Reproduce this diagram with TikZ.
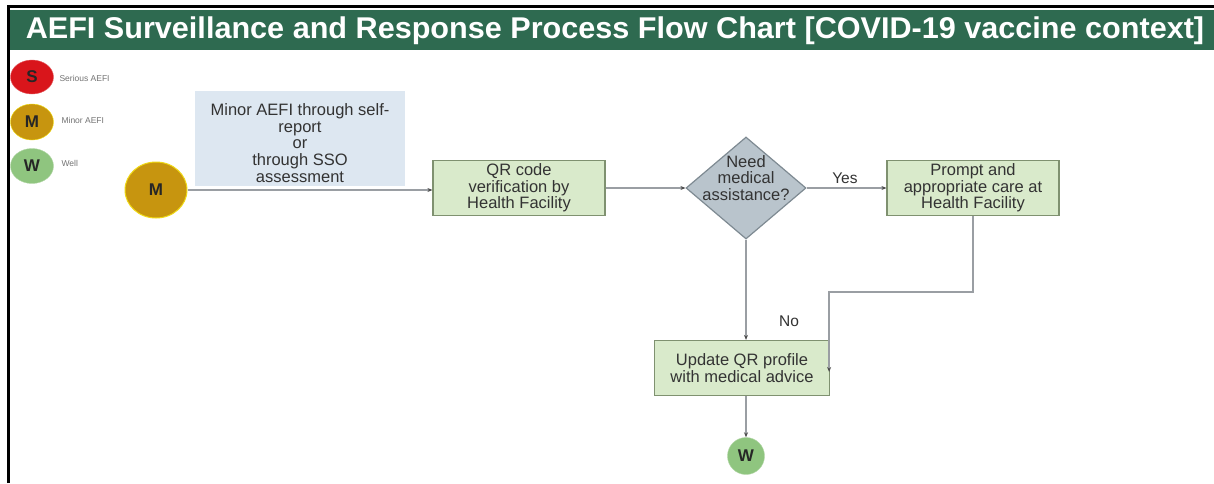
\documentclass[tikz,border=0pt]{standalone}
\usepackage{fontspec}
\setmainfont{Liberation Sans}
\usetikzlibrary{shapes.geometric,arrows.meta}
\definecolor{banner}{HTML}{2E6A50}
\definecolor{boxgreen}{HTML}{D9EACB}
\definecolor{boxedge}{HTML}{7F9170}
\definecolor{boxblue}{HTML}{DDE7F1}
\definecolor{diamfill}{HTML}{B9C4CC}
\definecolor{diamedge}{HTML}{7E8A92}
\definecolor{sred}{HTML}{D9151B}
\definecolor{mgold}{HTML}{C7950F}
\definecolor{wgreen}{HTML}{8FC57F}
\definecolor{linegray}{HTML}{9A9EA3}
\tikzset{
  procbox/.style={draw=boxedge, line width=1.2pt, fill=boxgreen, minimum width=172pt, minimum height=55pt, align=center, font=\fontsize{16.5}{16.5}\selectfont, text=black!80, inner sep=2pt},
  flow/.style={draw=linegray, line width=1.3pt, -{Stealth[length=5pt,width=4pt,color=black!70]}},
  badge/.style={ellipse, inner sep=0pt, font=\bfseries\fontsize{17}{18}\selectfont, text=black!85},
  legendtxt/.style={anchor=west, font=\fontsize{8.5}{9}\selectfont, text=black!55},
  lbl/.style={font=\fontsize{15.5}{16}\selectfont, text=black!80},
}
\begin{document}
\begin{tikzpicture}[x=1pt,y=-1pt]
\useasboundingbox (0,0) rectangle (1214,483);
\fill[white] (0,0) rectangle (1214,483);
% frame
\draw[line width=3pt, black] (8,483) -- (8,6) -- (1214,6);
% banner
\fill[banner] (10,10) rectangle (1214,50);
\node[text=white, font=\bfseries\fontsize{30}{32}\selectfont] (title) at (615,31) {\scalebox{1.02}[1]{AEFI Surveillance and Response Process Flow Chart [COVID-19 vaccine context]}};
% legend
\node[badge, fill=sred, draw=sred!70!white, minimum width=43pt, minimum height=34pt] (ls) at (32,77) {S};
\node[badge, fill=mgold, draw=yellow!80!mgold, minimum width=43pt, minimum height=36pt] (lm) at (32,122) {M};
\node[badge, fill=wgreen, draw=wgreen!70!white, minimum width=43pt, minimum height=35pt] (lw) at (32,166) {W};
\node[legendtxt] (lst) at (56,78) {Serious AEFI};
\node[legendtxt] (lmt) at (58,120) {Minor AEFI};
\node[legendtxt] (lwt) at (58,163) {Well};
% source
\node[fill=boxblue, minimum width=210pt, minimum height=95pt] (src) at (300,138) {};
\node[align=center, font=\fontsize{16.5}{16.8}\selectfont, text=black!80] (srct) at (300,143) {Minor AEFI through self-\\report\\or\\through SSO\\assessment};
\node[badge, fill=mgold, draw=yellow!70!mgold, line width=1pt, minimum width=62pt, minimum height=56pt] (m) at (156,190) {M};
% process
\node[procbox] (qr) at (519,188) {QR code\\verification by\\Health Facility};
\node[diamond, draw=diamedge, line width=1.2pt, fill=diamfill, minimum width=120pt, minimum height=102pt, inner sep=0pt] (dec) at (746,188) {};
\node[align=center, font=\fontsize{16.5}{16.5}\selectfont, text=black!80] (dect) at (746,178) {Need\\medical\\assistance?};
\node[procbox] (care) at (973,188) {Prompt and\\appropriate care at\\Health Facility};
\node[procbox, minimum width=175pt] (upd) at (742,368) {Update QR profile\\with medical advice};
\node[badge, fill=wgreen, draw=wgreen!70!white, minimum width=37pt, minimum height=37pt] (w) at (746,456) {W};
% connectors
\draw[flow] (m.east) -- (qr.west |- m.east);
\draw[flow] (qr.east) -- (dec.west);
\draw[flow] (dec.east) -- node[above, lbl, pos=0.48] (yes) {Yes} (care.west);
\draw[flow] (dec.south) -- (dec.south |- upd.north);
\coordinate (bend) at (care.south |- 0,292);
\coordinate (endp) at ([xshift=-1pt,yshift=-4pt]upd.east);
\draw[flow] (care.south) -- (bend) -- (endp |- bend) -- (endp);
\node[lbl] (no) at (789,321) {No};
\draw[flow] (upd.south -| dec.south) -- (w.north);
\end{tikzpicture}
\end{document}
